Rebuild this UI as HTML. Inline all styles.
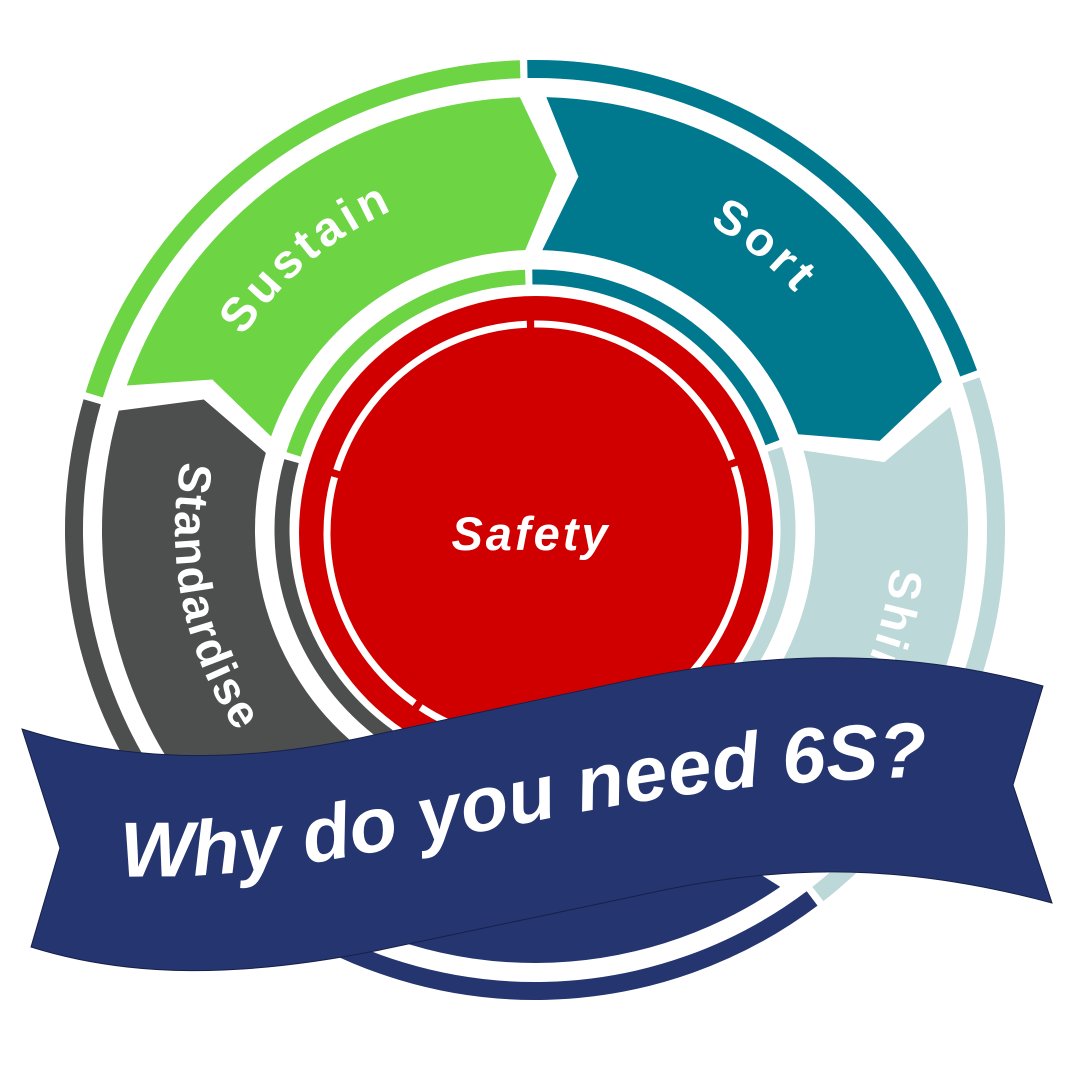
<!DOCTYPE html>
<html><head><meta charset="utf-8">
<style>
html,body{margin:0;padding:0;background:#fff;}
svg{display:block;}
.lbl{font-family:"Liberation Sans",sans-serif;font-weight:bold;fill:#fff;}
</style></head>
<body>
<svg id="s" width="1073" height="1073" viewBox="0 0 1073 1073" xmlns="http://www.w3.org/2000/svg">
<g id="segs"></g>
<circle cx="536" cy="533" r="237" fill="#d10000"/>
<g id="redring"></g>
<defs>
<path id="pSustain" d=""/>
<path id="pSort" d=""/>
<path id="pStd" d=""/>
<path id="pShine" d=""/>
<path id="pBan" d="M 120,876 C 250,880 330,860 530,822 C 650,798 760,778 975,776"/>
</defs>
<text class="lbl" font-size="48" letter-spacing="4"><textPath href="#pSustain" startOffset="50%" text-anchor="middle">Sustain</textPath></text>
<text class="lbl" font-size="48" letter-spacing="5"><textPath href="#pSort" startOffset="50%" text-anchor="middle">Sort</textPath></text>
<text class="lbl" font-size="46" letter-spacing="2"><textPath href="#pStd" startOffset="0">Standardise</textPath></text>
<text class="lbl" font-size="46" letter-spacing="3"><textPath href="#pShine" startOffset="0">Shine</textPath></text>
<text class="lbl" x="531" y="550" font-size="47" font-style="italic" letter-spacing="3" text-anchor="middle">Safety</text>
<path d="M22,729 C120,760 230,765 360,738 L640,678 C790,648 920,652 1043,686 L1013,785 L1052,903 C910,865 790,862 650,893 L380,950 C240,978 130,978 31,947 L60,848 Z" fill="#253570" stroke="#16204a" stroke-width="1"/>
<text class="lbl" font-size="78" font-style="italic"><textPath href="#pBan" textLength="815" lengthAdjust="spacing">Why do you need 6S?</textPath></text>
</svg>
<script>
(function(){
var cx=535,cy=530,NS="http://www.w3.org/2000/svg";
function P(r,a){a*=Math.PI/180;return (cx+r*Math.cos(a)).toFixed(2)+","+(cy+r*Math.sin(a)).toFixed(2);}
function arc(r,a0,a1,sw){var large=Math.abs(a1-a0)>180?1:0;return "A"+r+","+r+" 0 "+large+","+sw+" "+P(r,a1);}
var E=[-92,-20,52,124,196];
var C=["#6dd444","#00788e","#bcd8d8","#253570","#4d4f4f"];
var g=document.getElementById("segs");
function add(par,tag,attrs){var e=document.createElementNS(NS,tag);for(var k in attrs)e.setAttribute(k,attrs[k]);par.appendChild(e);return e;}
for(var i=0;i<5;i++){
  var e=E[i],s=e-68.5,ro=433,ri=280,rm=356,d=5.5;
  var dd="M"+P(ro,s)+" "+arc(ro,s,e,1)+" L"+P(rm,e+d)+" L"+P(ri,e)+" "+arc(ri,e,s,0)+" L"+P(rm,s+d)+" Z";
  add(g,"path",{d:dd,fill:C[i]});
  var pe=E[(i+4)%5]; if(pe>e) pe-=360;
  var a0=pe+0.6+0.45,a1=e+0.6-0.45;
  add(g,"path",{d:"M"+P(461,a0)+" "+arc(461,a0,a1,1),fill:"none",stroke:C[i],"stroke-width":18});
  var b0=pe+0.6+0.8,b1=e+0.6-0.8;
  add(g,"path",{d:"M"+P(253,b0)+" "+arc(253,b0,b1,1),fill:"none",stroke:C[i],"stroke-width":15});
}
var rr=document.getElementById("redring");
var rcx=536,rcy=533;
function Q(r,a){a*=Math.PI/180;return (rcx+r*Math.cos(a)).toFixed(2)+","+(rcy+r*Math.sin(a)).toFixed(2);}
for(var i=0;i<5;i++){
  var e=E[i],pe=E[(i+4)%5]; if(pe>e) pe-=360;
  var a0=pe+1.5,a1=e-0.5;
  add(rr,"path",{d:"M"+Q(209,a0)+" A209,209 0 0,1 "+Q(209,a1),fill:"none",stroke:"#fff","stroke-width":7});
}
function cw(r,a0,a1){return "M"+P(r,a0)+" "+arc(r,a0,a1,1);}
function ccw(r,a0,a1){return "M"+P(r,a0)+" "+arc(r,a0,a1,0);}
document.getElementById("pSustain").setAttribute("d",cw(350,195,265));
document.getElementById("pSort").setAttribute("d",cw(352,-85,-17));
document.getElementById("pStd").setAttribute("d",ccw(360,191,110));
document.getElementById("pShine").setAttribute("d",cw(358,6,50));
})();
</script>
</body></html>
